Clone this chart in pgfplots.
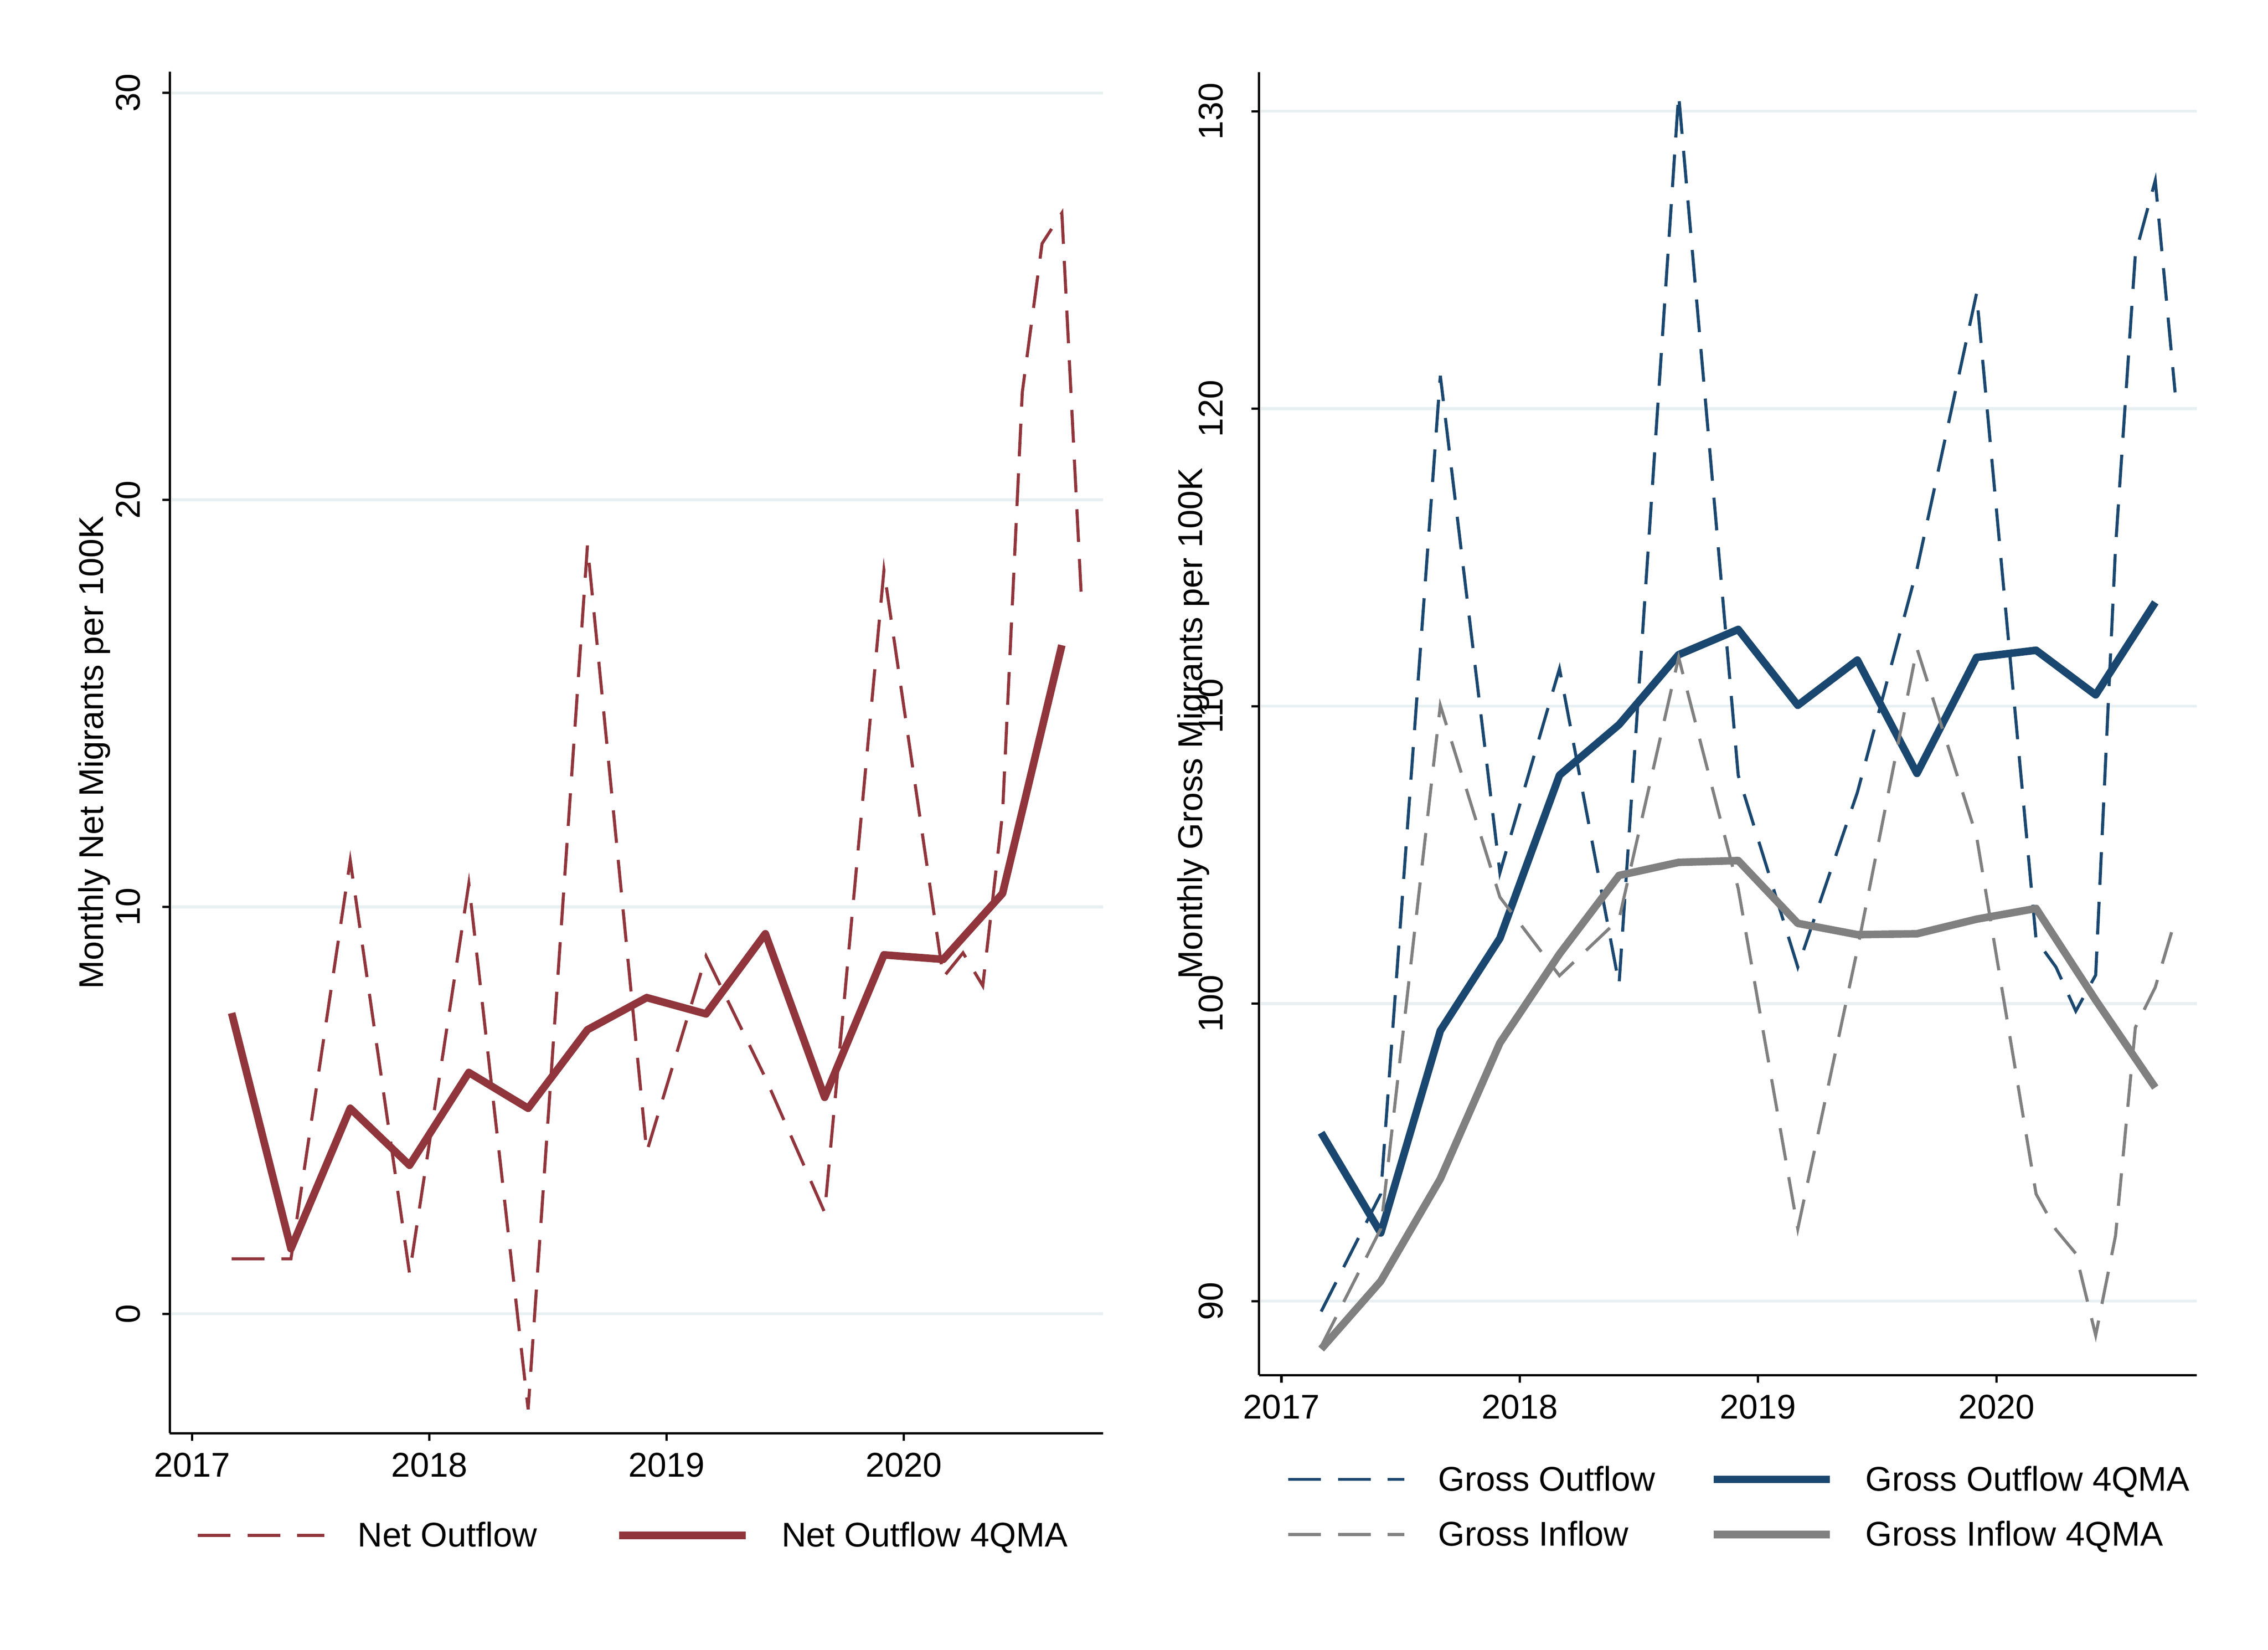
\documentclass[border=0pt]{standalone}
\usepackage{fontspec}
\setmainfont{Liberation Sans}
\usepackage{pgfplots}
\pgfplotsset{compat=1.18}
\definecolor{cranb}{RGB}{144,53,59}
\definecolor{navyb}{RGB}{26,71,111}
\definecolor{gsb}{RGB}{128,128,128}
\definecolor{gridc}{RGB}{232,240,242}
\newcommand{\fs}{\fontsize{11.8bp}{14bp}\selectfont}
\pgfplotsset{
  mystyle/.style={
    scale only axis,
    axis lines=left,
    axis line style={black, line width=0.8bp, -},
    x axis line style={-}, y axis line style={-},
    xmin=2016.906, xmax=2020.841,
    xtick={2017,2018,2019,2020},
    ymajorgrids,
    major grid style={gridc, line width=1bp},
    tick style={black, line width=0.8bp},
    tick align=outside, major tick length=2.6bp,
    /pgf/number format/1000 sep={},
    /pgf/number format/assume math mode=true,
    tick label style={font=\fs},
    label style={font=\fs},
    xticklabel style={anchor=base, yshift=-12.4bp},
    legend cell align=left,
  },
  dashedl/.style={line width=1.05bp, dash pattern=on 11.25bp off 5.85bp},
  solidl/.style={line width=2.6bp, line join=round},
}
\begin{document}
\begin{tikzpicture}
\useasboundingbox (0,0) rectangle (780bp,567.1bp);
% ---------------- left panel
\begin{axis}[mystyle,
  at={(58.4bp,74.4bp)}, anchor=south west,
  width=321bp, height=468bp,
  ymin=-2.935, ymax=30.52,
  ytick={0,10,20,30},
  yticklabel style={xshift=-7.75bp, rotate=90, anchor=base},
  ylabel={Monthly Net Migrants per 100K},
  ylabel style={at={(axis description cs:-0.0713,0.5)}, anchor=base},
  legend columns=2,
  legend image code/.code={\draw[#1] (0bp,-0.3bp) -- (43.5bp,-0.3bp);},
  legend style={draw=none, fill=none, inner sep=0pt, outer sep=0pt,
    nodes={inner sep=0pt, text height=8.45bp, text depth=0bp, font=\fs},
    /tikz/every odd column/.append style={column sep=11bp},
    /tikz/every even column/.append style={column sep=27bp},
    at={(axis description cs:0.02835,-0.07436)}, anchor=west},
]
\addplot[cranb, dashedl] coordinates {
(2017.1667,1.35) (2017.4167,1.35) (2017.6667,11.14) (2017.9167,0.99)
(2018.1667,10.57) (2018.4167,-2.35) (2018.6667,18.88) (2018.9167,3.98)
(2019.1667,8.79) (2019.4167,5.8) (2019.6667,2.49) (2019.9167,18.27)
(2020.1667,8.27) (2020.25,8.87) (2020.3333,8.06) (2020.4167,12.3)
(2020.5,22.65) (2020.5833,26.3) (2020.6667,27.05) (2020.75,17.48)
};
\addlegendentry{Net Outflow}
\addplot[cranb, solidl] coordinates {
(2017.1667,7.39) (2017.4167,1.60) (2017.6667,5.05) (2017.9167,3.65)
(2018.1667,5.93) (2018.4167,5.05) (2018.6667,6.98) (2018.9167,7.77)
(2019.1667,7.37) (2019.4167,9.34) (2019.6667,5.32) (2019.9167,8.82)
(2020.1667,8.71) (2020.4167,10.33) (2020.6667,16.43)
};
\addlegendentry{Net Outflow 4QMA}
\end{axis}
% ---------------- right panel
\begin{axis}[mystyle,
  at={(433bp,94.35bp)}, anchor=south west,
  width=322.5bp, height=448bp,
  ymin=87.51, ymax=131.32,
  ytick={90,100,110,120,130},
  yticklabel style={xshift=-9.95bp, rotate=90, anchor=base},
  ylabel={Monthly Gross Migrants per 100K},
  ylabel style={at={(axis description cs:-0.0605,0.5)}, anchor=base},
  legend columns=2,
  legend image code/.code={\draw[#1] (0bp,-0.3bp) -- (40bp,-0.3bp);},
  legend style={draw=none, fill=none, inner sep=0pt, outer sep=0pt,
    row sep=10.5bp,
    nodes={inner sep=0pt, text height=8.45bp, text depth=0bp, font=\fs},
    /tikz/every odd column/.append style={column sep=11bp},
    /tikz/every even column/.append style={column sep=18.7bp},
    at={(axis description cs:0.02946,-0.10045)}, anchor=west},
]
\addplot[navyb, dashedl] coordinates {
(2017.1667,89.65) (2017.4167,93.6) (2017.6667,121.11) (2017.9167,104.4)
(2018.1667,111.26) (2018.4167,100.65) (2018.6667,130.56) (2018.9167,107.68)
(2019.1667,101.23) (2019.4167,107.1) (2019.6667,114.6) (2019.9167,123.87)
(2020.1667,102.15) (2020.25,101.23) (2020.3333,99.75) (2020.4167,100.96)
(2020.5,115.34) (2020.5833,125.2) (2020.6667,127.67) (2020.75,120.55)
};
\addlegendentry{Gross Outflow}
\addplot[navyb, solidl] coordinates {
(2017.1667,95.66) (2017.4167,92.29) (2017.6667,99.09) (2017.9167,102.20)
(2018.1667,107.68) (2018.4167,109.38) (2018.6667,111.73) (2018.9167,112.58)
(2019.1667,110.03) (2019.4167,111.55) (2019.6667,107.74) (2019.9167,111.64)
(2020.1667,111.88) (2020.4167,110.38) (2020.6667,113.49)
};
\addlegendentry{Gross Outflow 4QMA}
\addplot[gsb, dashedl] coordinates {
(2017.1667,88.48) (2017.4167,92.43) (2017.6667,110.03) (2017.9167,103.58)
(2018.1667,100.94) (2018.4167,102.84) (2018.6667,111.64) (2018.9167,103.87)
(2019.1667,92.43) (2019.4167,101.82) (2019.6667,111.94) (2019.9167,105.63)
(2020.1667,93.6) (2020.25,92.4) (2020.3333,91.6) (2020.4167,88.85)
(2020.5,92.2) (2020.5833,99.2) (2020.6667,100.55) (2020.75,102.8)
};
\addlegendentry{Gross Inflow}
\addplot[gsb, solidl] coordinates {
(2017.1667,88.39) (2017.4167,90.67) (2017.6667,94.11) (2017.9167,98.68)
(2018.1667,101.67) (2018.4167,104.31) (2018.6667,104.75) (2018.9167,104.81)
(2019.1667,102.70) (2019.4167,102.32) (2019.6667,102.35) (2019.9167,102.84)
(2020.1667,103.20) (2020.4167,100.12) (2020.6667,97.18)
};
\addlegendentry{Gross Inflow 4QMA}
\end{axis}
\end{tikzpicture}
\end{document}
